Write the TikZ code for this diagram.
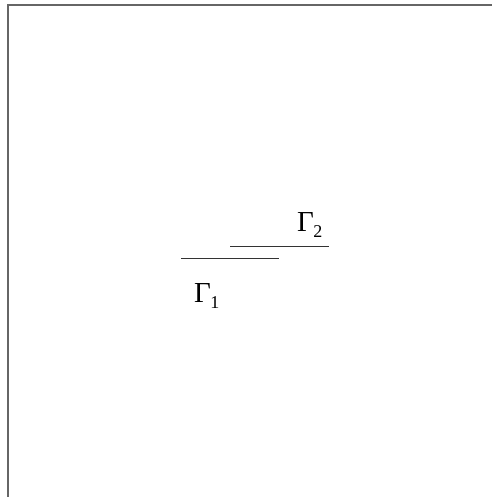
\documentclass[tikz,border=0pt]{standalone}
\usepackage{fontspec}
\setmainfont{Liberation Serif}
\usetikzlibrary{positioning}

\newcommand{\lowsub}[1]{\kern-0.5pt\raisebox{-6pt}{\fontsize{18}{20}\selectfont #1}}

\begin{document}
\begin{tikzpicture}[x=1pt,y=-1pt,
  frame/.style={draw=black!60,line width=1.3pt},
  segment/.style={draw=black!80,line width=0.9pt},
  curvelabel/.style={font=\fontsize{29}{32}\selectfont,inner sep=0pt,anchor=base west},
]
\useasboundingbox (0,0) rectangle (492,497);

% Frame (top and left edges)
\coordinate (fbl) at (8,497);
\coordinate (ftl) at (8,5);
\coordinate (ftr) at (492,5);
\draw[frame] (fbl) -- (ftl) -- (ftr);

% Two segments
\coordinate (g1a) at (181,258);
\coordinate (g1b) at (279,258);
\coordinate (g2a) at (230,246);
\coordinate (g2b) at (329,246);
\draw[segment] (g1a) -- (g1b);
\draw[segment] (g2a) -- (g2b);

% Labels
\node[curvelabel] (gammaone) at (194,302) {Γ\lowsub{1}};
\node[curvelabel] (gammatwo) at (297,231) {Γ\lowsub{2}};

\end{tikzpicture}
\end{document}
